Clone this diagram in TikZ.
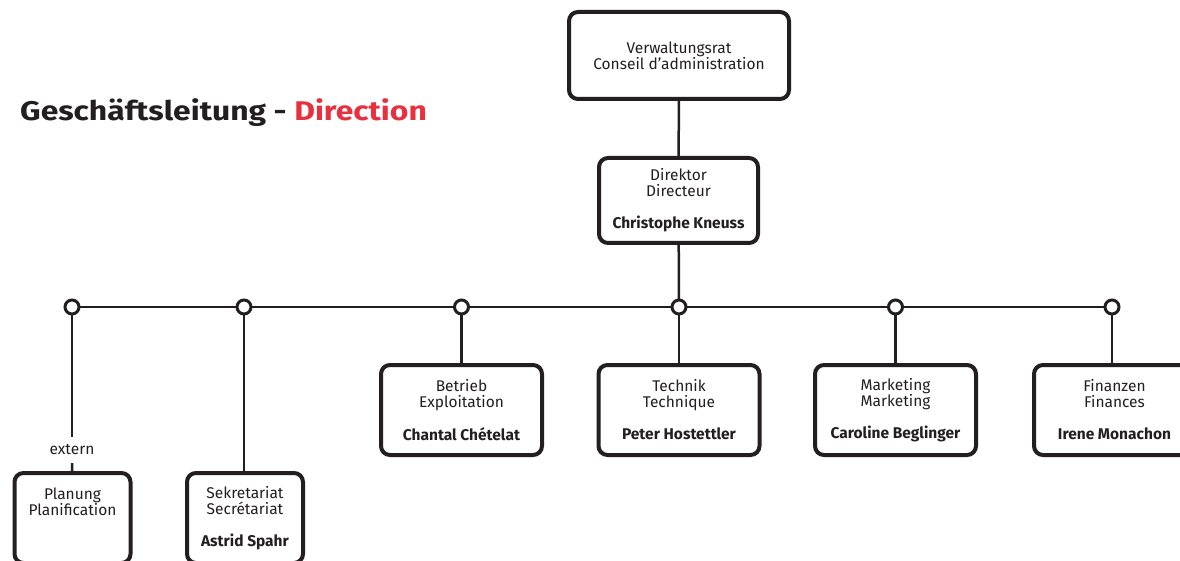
\documentclass[tikz,border=0pt]{standalone}
\usepackage{fontspec}
\setmainfont{Fira Sans}
\newfontfamily\titlefont[FakeStretch=1.18]{Fira Sans}
\definecolor{ink}{HTML}{231F20}
\definecolor{accent}{HTML}{E8313F}
\tikzset{
  box/.style={draw=ink, line width=4pt, rounded corners=9pt, fill=white, align=center,
    inner sep=0pt, text=ink, font=\fontsize{15.5}{16}\selectfont},
  link/.style={draw=ink, line width=2.5pt},
  joint/.style={circle, draw=ink, line width=3pt, fill=white, minimum size=14pt, inner sep=0pt},
}
\begin{document}
\begin{tikzpicture}[x=1pt,y=-1pt]
\useasboundingbox[fill=white] (0,0) rectangle (1180,561);

\node[anchor=base west, text=ink, font=\titlefont\fontsize{27}{30}\selectfont\bfseries, inner sep=0pt]
  (title) at (20,121) {Geschäftsleitung - \textcolor{accent}{Direction}};

\node[box, minimum width=220pt, minimum height=87pt] (vr) at (679,55.5)
  {Verwaltungsrat\\Conseil d’administration};
\node[box, minimum width=159pt, minimum height=85pt] (dir) at (678.5,200.5)
  {Direktor\\Directeur\\[16pt]\textbf{Christophe Kneuss}};

\node[box, minimum width=161pt, minimum height=90pt] (betrieb) at (461.5,410)
  {Betrieb\\Exploitation\\[16pt]\textbf{Chantal Chételat}};
\node[box, minimum width=161pt, minimum height=90pt] (technik) at (679,410)
  {Technik\\Technique\\[16pt]\textbf{Peter Hostettler}};
\node[box, minimum width=161pt, minimum height=90pt] (marketing) at (895.5,410)
  {Marketing\\Marketing\\[16pt]\textbf{Caroline Beglinger}};
\node[box, minimum width=161pt, minimum height=90pt] (finanzen) at (1114.5,410)
  {Finanzen\\Finances\\[16pt]\textbf{Irene Monachon}};

\node[box, minimum width=116pt, minimum height=90pt] (planung) at (72.5,518)
  {Planung\\Planification\\[16pt]\phantom{X}};
\node[box, minimum width=116pt, minimum height=90pt] (sekr) at (245,518)
  {Sekretariat\\Secrétariat\\[16pt]\textbf{Astrid Spahr}};

\coordinate (c1) at (72,307);
\coordinate (c2) at (244,307);
\coordinate (c3) at (461.5,307);
\coordinate (c4) at (679,307);
\coordinate (c5) at (895.5,307);
\coordinate (c6) at (1112,307);

\node[text=ink, font=\fontsize{15.5}{16}\selectfont, inner sep=0pt, minimum height=26pt,
  text height=10pt, text depth=1pt] (ext) at (72,450) {extern};

\draw[link] (c1) -- (c6);
\draw[link] (vr) -- (dir);
\draw[link] (dir) -- (c4);
\draw[link] (c1) -- (ext);
\draw[link] (ext) -- (planung);
\draw[link] (c2) -- (sekr.north -| c2);
\draw[link] (c3) -- (betrieb);
\draw[link] (c4) -- (technik);
\draw[link] (c5) -- (marketing.north -| c5);
\draw[link] (c6) -- (finanzen.north -| c6);

\foreach \c in {c1,c2,c3,c4,c5,c6}
  \node[joint] at (\c) {};
\end{tikzpicture}
\end{document}
